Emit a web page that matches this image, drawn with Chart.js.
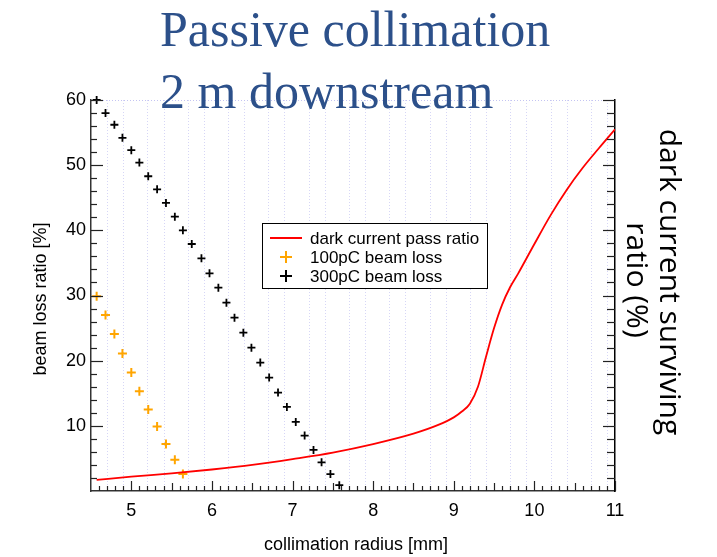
<!DOCTYPE html>
<html>
<head>
<meta charset="utf-8">
<script src="https://cdn.jsdelivr.net/npm/chart.js@4.4.1/dist/chart.umd.min.js"></script>
<style>
  html, body { margin: 0; padding: 0; background: #fff; }
  canvas { display: block; }
</style>
</head>
<body>
<canvas id="collChart" width="717" height="557"></canvas>
<script>
// Slide heading and axis texts
const titleLines = ['Passive collimation', '2 m downstream'];
const xTitle = 'collimation radius [mm]';
const yTitle = 'beam loss ratio [%]';
const rightTitle = ['dark current surviving', 'ratio (%)'];
const seriesNames = ['dark current pass ratio', '100pC beam loss', '300pC beam loss'];

// Dark current pass ratio vs. collimation radius
const radiusDark = [4.57, 5.0, 5.5, 6.0, 6.5, 7.0, 7.5, 8.0, 8.5, 8.8, 9.0, 9.1, 9.2, 9.3, 9.4, 9.5, 9.6, 9.7, 9.8, 10.0, 10.2, 10.4, 10.6, 10.8, 11.0];
const passDark = [1.7, 2.2, 2.7, 3.3, 4.0, 4.9, 5.9, 7.2, 8.8, 10.1, 11.3, 12.2, 13.4, 16.0, 20.6, 25.0, 28.6, 31.3, 33.4, 37.9, 42.3, 46.2, 49.6, 52.6, 55.5];

// 100pC beam loss
const radius100 = [4.57, 4.68, 4.79, 4.89, 5.00, 5.10, 5.21, 5.32, 5.43, 5.54, 5.64];
const loss100 = [29.9, 27.0, 24.1, 21.1, 18.2, 15.3, 12.5, 9.9, 7.2, 4.8, 2.6];

// 300pC beam loss
const radius300 = [4.57, 4.68, 4.79, 4.89, 5.00, 5.10, 5.21, 5.32, 5.43, 5.54, 5.64, 5.75, 5.87, 5.97, 6.08, 6.18, 6.28, 6.39, 6.49, 6.60, 6.71, 6.82, 6.93, 7.04, 7.15, 7.26, 7.36, 7.47, 7.58];
const loss300 = [60.0, 58.0, 56.2, 54.2, 52.3, 50.4, 48.3, 46.3, 44.2, 42.1, 40.0, 37.9, 35.7, 33.4, 31.2, 28.9, 26.6, 24.3, 22.0, 19.7, 17.4, 15.1, 12.9, 10.6, 8.5, 6.3, 4.4, 2.6, 0.9];

const colors = ['#ff0000', '#ffa500', '#000000'];
const sans = '"Liberation Sans", Arial, sans-serif';

function toPoints(xs, ys) {
    return xs.map((x, i) => ({ x: x, y: ys[i] }));
}

function line(ctx, x1, y1, x2, y2) {
    ctx.beginPath();
    ctx.moveTo(x1, y1);
    ctx.lineTo(x2, y2);
    ctx.stroke();
}

function cross(ctx, x, y, r) {
    line(ctx, x - r, y, x + r, y);
    line(ctx, x, y - r, x, y + r);
}

// Dotted blue grid behind the data
const gridPlugin = {
    id: 'dottedGrid',
    beforeDatasetsDraw(chart) {
        const ctx = chart.ctx;
        const { left, right, top, bottom } = chart.chartArea;
        const xs = chart.scales.x;
        ctx.save();
        ctx.strokeStyle = '#d6d6f6';
        ctx.lineWidth = 1;
        ctx.setLineDash([1, 2]);
        for (let k = 0; k < 13; k++) {
            [0.2, 0.4].forEach(off => {
                const v = 4.5 + k * 0.5 + off;
                if (v >= 11) return;
                const px = Math.round(xs.getPixelForValue(v)) + 0.5;
                line(ctx, px, top, px, bottom);
            });
        }
        ctx.strokeStyle = '#c4c4f2';
        line(ctx, left, top + 0.5, right, top + 0.5);
        ctx.restore();
    }
};

// Inward ticks, legend box and all the free text
const decorPlugin = {
    id: 'decor',
    afterDraw(chart) {
        const ctx = chart.ctx;
        const { left, right, top, bottom } = chart.chartArea;
        const xs = chart.scales.x, ys = chart.scales.y;
        ctx.save();

        // axis ticks
        ctx.strokeStyle = '#222';
        ctx.lineWidth = 1.2;
        for (let v = 2; v <= 60; v += 2) {
            const py = Math.round(ys.getPixelForValue(v)) + 0.5;
            const major = v % 10 === 0;
            line(ctx, left, py, left + (major ? 12 : 6), py);
            line(ctx, right, py, right - (major ? 12 : 8), py);
        }
        for (let i = 46; i <= 110; i++) {
            const px = Math.round(xs.getPixelForValue(i / 10)) + 0.5;
            const len = i % 10 === 0 ? 10 : (i % 5 === 0 ? 8 : 5);
            line(ctx, px, bottom, px, bottom - len);
        }

        // legend
        const lx = 262.5, ly = 223.5, lw = 225, lh = 65;
        ctx.fillStyle = '#fff';
        ctx.fillRect(lx, ly, lw, lh);
        ctx.strokeStyle = '#000';
        ctx.lineWidth = 1;
        ctx.strokeRect(lx, ly, lw, lh);
        const rows = [238, 257, 276];
        ctx.font = '17px ' + sans;
        ctx.textBaseline = 'middle';
        ctx.textAlign = 'left';
        chart.data.datasets.forEach((ds, i) => {
            ctx.strokeStyle = ds.borderColor;
            ctx.lineWidth = 2;
            if (i === 0) line(ctx, 270, rows[i], 302, rows[i]);
            else cross(ctx, 286, rows[i], 6);
            ctx.fillStyle = '#000';
            ctx.fillText(ds.label, 310, rows[i] + 1);
        });

        // axis titles
        ctx.fillStyle = '#000';
        ctx.font = '18px ' + sans;
        ctx.textAlign = 'center';
        ctx.fillText(xTitle, 356, 545);
        ctx.save();
        ctx.translate(41, 299);
        ctx.rotate(-Math.PI / 2);
        ctx.fillText(yTitle, 0, 0);
        ctx.restore();

        ctx.font = '30px "Open Sans", "Noto Sans", sans-serif';
        [[669, 282], [636, 280]].forEach((p, i) => {
            ctx.save();
            ctx.translate(p[0], p[1]);
            ctx.rotate(Math.PI / 2);
            ctx.fillText(rightTitle[i], 0, 0);
            ctx.restore();
        });

        // heading over the plot
        ctx.font = '50px "Liberation Serif", "DejaVu Serif", serif';
        ctx.fillStyle = '#2c508a';
        ctx.textAlign = 'left';
        ctx.textBaseline = 'alphabetic';
        ctx.fillText(titleLines[0], 160, 46);
        ctx.fillText(titleLines[1], 160, 108);
        ctx.restore();
    }
};

const tickFont = { family: sans, size: 18 };

new Chart(document.getElementById('collChart').getContext('2d'), {
    type: 'scatter',
    data: {
        datasets: [{
            type: 'line',
            label: seriesNames[0],
            data: toPoints(radiusDark, passDark),
            borderColor: colors[0],
            borderWidth: 1.8,
            pointRadius: 0,
            cubicInterpolationMode: 'monotone',
            fill: false
        }, {
            label: seriesNames[1],
            data: toPoints(radius100, loss100),
            pointStyle: 'cross',
            pointRadius: 4.5,
            borderColor: colors[1],
            borderWidth: 2,
            clip: false
        }, {
            label: seriesNames[2],
            data: toPoints(radius300, loss300),
            pointStyle: 'cross',
            pointRadius: 4,
            borderColor: colors[2],
            borderWidth: 1.8,
            clip: false
        }]
    },
    options: {
        responsive: false,
        animation: false,
        layout: { padding: { top: 100 } },
        plugins: { legend: { display: false }, tooltip: { enabled: false } },
        scales: {
            x: {
                type: 'linear',
                min: 4.5,
                max: 11,
                ticks: { stepSize: 1, includeBounds: false, font: tickFont, color: '#000', padding: 9 },
                grid: { display: false, drawTicks: false },
                border: { color: '#333', width: 1.5 },
                afterFit: s => { s.height = 66; }
            },
            y: {
                min: 0,
                max: 60,
                ticks: {
                    stepSize: 10,
                    font: tickFont,
                    color: '#000',
                    padding: 5,
                    callback: v => (v === 0 ? '' : v)
                },
                grid: { display: false, drawTicks: false },
                border: { color: '#333', width: 1.5 },
                afterFit: s => { s.width = 91; }
            },
            y2: {
                position: 'right',
                min: 0,
                max: 60,
                ticks: { display: false },
                grid: { display: false, drawTicks: false },
                border: { color: '#000', width: 1.5 },
                afterFit: s => { s.width = 102; }
            }
        }
    },
    plugins: [gridPlugin, decorPlugin]
});
</script>
</body>
</html>
